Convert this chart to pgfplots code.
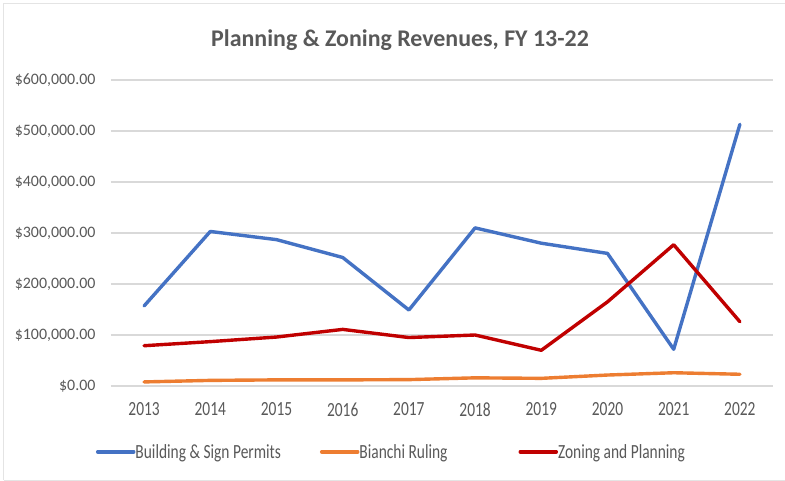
\documentclass[border=0pt]{standalone}
\usepackage{pgfplots}
\pgfplotsset{compat=1.18}
\usepackage{fontspec}
\setmainfont{Carlito}
\definecolor{cblue}{HTML}{4472C4}
\definecolor{corange}{HTML}{ED7D31}
\definecolor{cred}{HTML}{C00000}
\definecolor{cgrid}{HTML}{D9D9D9}
\definecolor{ctext}{HTML}{595959}
\newcommand\vs[1]{\scalebox{1}[1.3]{#1}}
\begin{document}
\begin{tikzpicture}
\useasboundingbox (-111bp,-95bp) rectangle (674bp,386bp);
\fill[white] (-111bp,-95bp) rectangle (674bp,386bp);
\draw[cgrid!70, line width=1bp] (-107bp,-94bp) -- (-107bp,382bp) -- (674bp,382bp);
\draw[cgrid!70, line width=1bp] (-107bp,-94bp) -- (674bp,-94bp);
\node[text=ctext, font=\fontsize{24}{28}\selectfont\bfseries] at (289bp,346bp) {Planning \& Zoning Revenues, FY 13-22};
\begin{axis}[
  at={(0,0)}, anchor=south west,
  scale only axis, width=662bp, height=306bp,
  xmin=-0.5, xmax=9.5, ymin=0, ymax=600000,
  scaled y ticks=false,
  xtick={0,...,9},
  xticklabels={\vs{2013},\vs{2014},\vs{2015},\vs{2016},\vs{2017},\vs{2018},\vs{2019},\vs{2020},\vs{2021},\vs{2022}},
  ytick={0,100000,200000,300000,400000,500000,600000},
  yticklabels={{\$0.00},{\$100,000.00},{\$200,000.00},{\$300,000.00},{\$400,000.00},{\$500,000.00},{\$600,000.00}},
  ymajorgrids, grid style={cgrid, line width=1.4bp},
  axis line style={draw=none},
  major tick length=0pt,
  tick label style={text=ctext},
  yticklabel style={xshift=-12bp, font=\fontsize{16}{19}\selectfont},
  xticklabel style={yshift=-13bp, font=\fontsize{15.5}{18}\selectfont},
  legend columns=3,
  legend style={at={(-0.023,-0.215)}, anchor=west, draw=none, fill=none,
    font=\fontsize{15.5}{18}\selectfont, text=ctext,
    /tikz/every even column/.append style={column sep=0bp},
    inner sep=0pt},
  legend cell align=left,
  legend image code/.code={\draw[#1, line width=3.5bp, line cap=round] (0bp,0bp) -- (36bp,0bp);},
  every axis plot/.append style={line width=3.4bp, line join=round, line cap=round, mark=none},
]
\addplot[cblue] coordinates {(0,157000) (1,303000) (2,287000) (3,252000) (4,149000) (5,310000) (6,280000) (7,260000) (8,72000) (9,513000)};
\addlegendentry{\kern-2bp \vs{Building \& Sign Permits}\rule{37bp}{0pt}}
\addplot[corange] coordinates {(0,8000) (1,11000) (2,12000) (3,12000) (4,12500) (5,16000) (6,15000) (7,21500) (8,26000) (9,23000)};
\addlegendentry{\kern-2bp \vs{Bianchi Ruling}\rule{69bp}{0pt}}
\addplot[cred] coordinates {(0,79000) (1,87000) (2,96000) (3,111000) (4,95000) (5,100000) (6,70000) (7,165000) (8,277000) (9,126000)};
\addlegendentry{\kern-2bp \vs{Zoning and Planning}}
\end{axis}
\end{tikzpicture}
\end{document}
